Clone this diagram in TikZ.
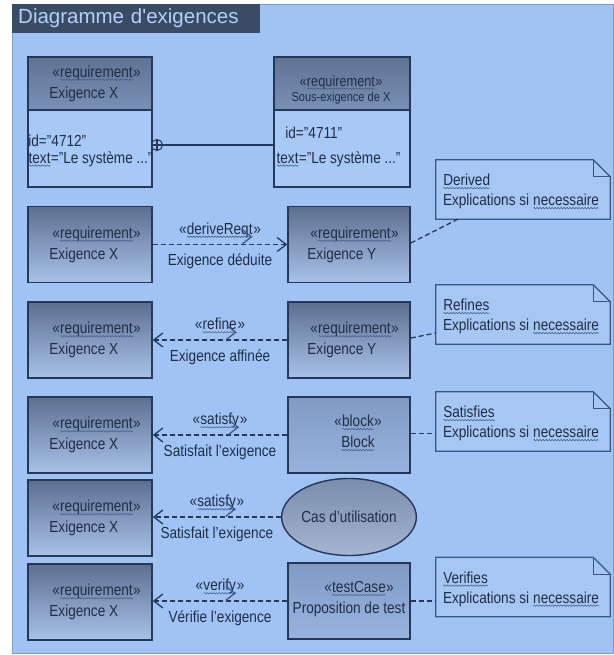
\documentclass[tikz,border=0pt]{standalone}
\usepackage{fontspec}
\setmainfont{Liberation Sans}[FakeStretch=0.85]
\newfontfamily\titlefont{Liberation Sans}
\usetikzlibrary{arrows.meta,shapes.geometric,decorations.pathmorphing}

\definecolor{panel}{HTML}{A0C3F4}
\definecolor{panelline}{HTML}{7E9CC6}
\definecolor{titlebar}{HTML}{3A4B64}
\definecolor{titletext}{HTML}{B3D1FA}
\definecolor{ink}{HTML}{1F2E47}
\definecolor{squig}{HTML}{3F5A85}
\definecolor{edge}{HTML}{24385A}
\definecolor{boxtop}{HTML}{5C6F90}
\definecolor{boxbot}{HTML}{A9C2E9}
\definecolor{headtop}{HTML}{5F7394}
\definecolor{headbot}{HTML}{7990B5}
\definecolor{bodyfill}{HTML}{A8C8F5}
\definecolor{notefill}{HTML}{A6C6F4}
\definecolor{noteedge}{HTML}{3A5682}
\definecolor{plaintop}{HTML}{809AC4}
\definecolor{plainbot}{HTML}{98B4DE}
\definecolor{ucfill}{HTML}{7D96BE}

% word with a wavy underline
\newcommand\uwave[1]{\tikz[baseline=(uw.base)]{%
  \node[shape=rectangle, draw=none, fill=none, inner sep=0pt, outer sep=0pt,
    minimum size=0pt, anchor=center] (uw) {#1};
  \draw[squig, line width=0.5pt, decorate,
    decoration={snake, amplitude=0.7pt, segment length=3pt}]
    ([yshift=-2.6pt]uw.base west) -- ([yshift=-2.6pt]uw.base east);}}
% stereotype line + element name, as used in every requirement box
\newcommand\reqtext[1]{\hspace*{3pt}«\uwave{requirement}»\\#1}
% note outline with folded top-right corner, drawn around a named node
\newcommand\dogear[1]{%
  \filldraw[fill=notefill, draw=noteedge, line width=1.2pt]
    (#1.south west) -- (#1.north west) -- ([xshift=-17pt]#1.north east)
    -- ([yshift=-17pt]#1.north east) -- (#1.south east) -- cycle;
  \draw[noteedge, line width=1.2pt]
    ([xshift=-17pt]#1.north east) -- ([xshift=-17pt,yshift=-17pt]#1.north east)
    -- ([yshift=-17pt]#1.north east);}

\begin{document}
\begin{tikzpicture}[x=1pt,y=-1pt,
  txt/.style={text=ink, font=\fontsize{16}{21}\selectfont, inner sep=0pt, align=left},
  lab/.style={text=ink, font=\fontsize{16}{19}\selectfont, inner sep=0pt},
  reqbox/.style={draw=edge, line width=1.6pt, top color=boxtop, bottom color=boxbot,
    minimum width=124pt, minimum height=76pt, inner sep=0pt},
  reqboxR/.style={reqbox, minimum width=122pt},
  plainbox/.style={draw=edge, line width=1.6pt, top color=plaintop, bottom color=plainbot,
    minimum width=122pt, minimum height=76pt, inner sep=0pt},
  headbox/.style={draw=edge, line width=1.6pt, top color=headtop, bottom color=headbot,
    minimum height=53pt, inner sep=0pt},
  bodybox/.style={draw=edge, line width=1.6pt, fill=bodyfill, minimum height=77pt, inner sep=0pt},
  notebox/.style={minimum width=174pt, minimum height=59pt, inner sep=0pt},
  dep/.style={draw=edge, line width=1.3pt, dash pattern=on 5pt off 3pt,
    -{Straight Barb[length=9pt,width=14pt,line width=1.3pt]}},
  link/.style={draw=edge, line width=1.3pt, dash pattern=on 5pt off 3pt},
]
\useasboundingbox (0,0) rectangle (613,655);

% diagram frame and title tab
\filldraw[fill=panel, draw=panelline, line width=0.8pt] (12,4) rectangle (613,653);
\node[fill=titlebar, anchor=north west, minimum height=29pt, text width=236pt,
  inner xsep=6pt, inner ysep=0pt, align=left, text=titletext,
  font=\titlefont\fontsize{20.5}{24}\selectfont] (title) at (12,4) {Diagramme d'exigences};

% containment: requirement and sub-requirement with compartments
\node[headbox, minimum width=124pt] (b1head) at (90,83.5) {};
\node[bodybox, minimum width=124pt] (b1body) at (90,148.5) {};
\node[txt, anchor=west] (b1name) at ([xshift=22pt]b1head.west) {\reqtext{Exigence X}};
\node[txt, anchor=west, font=\fontsize{16}{17}\selectfont] (b1attr) at ([xshift=1pt,yshift=-2pt]b1body.west)
  {id="4712"\\\uwave{text}="Le système ..."};

\node[headbox, minimum width=136pt] (b2head) at (342,83.5) {};
\node[bodybox, minimum width=136pt] (b2body) at (342,148.5) {};
\node[txt, align=center, font=\fontsize{15}{15}\selectfont] (b2name) at (341,89.5)
  {«\uwave{requirement}»\\\fontsize{13}{15}\selectfont Sous-exigence de X};
\node[txt, anchor=west, font=\fontsize{16}{19}\selectfont] (b2attr) at ([xshift=3pt,yshift=2pt]b2body.west)
  {\hspace*{9pt}id="4711"\\[6pt]\uwave{text}="Le système ..."};

\node[circle, draw=edge, fill=bodyfill, line width=1.1pt, minimum size=11pt, inner sep=0pt] (plus) at (157,145) {};
\draw[edge, line width=1.1pt] (plus.north) -- (plus.south) (plus.west) -- (plus.east);
\draw[edge, line width=1.3pt] (plus.east) -- (plus.east -| b2body.west);

% notes
\node[notebox] (n1) at (523,189.5) {};
\node[notebox] (n2) at (523,314.5) {};
\node[notebox] (n3) at (523,421.5) {};
\node[notebox] (n4) at (523,587) {};
\dogear{n1}\dogear{n2}\dogear{n3}\dogear{n4}
\node[txt, anchor=west, font=\fontsize{16}{20}\selectfont] (n1t) at ([xshift=7pt,yshift=-2pt]n1.west) {\uwave{Derived}\\Explications si \uwave{necessaire}};
\node[txt, anchor=west, font=\fontsize{16}{20}\selectfont] (n2t) at ([xshift=7pt,yshift=-2pt]n2.west) {\uwave{Refines}\\Explications si \uwave{necessaire}};
\node[txt, anchor=west, font=\fontsize{16}{20}\selectfont] (n3t) at ([xshift=7pt,yshift=-2pt]n3.west) {\uwave{Satisfies}\\Explications si \uwave{necessaire}};
\node[txt, anchor=west, font=\fontsize{16}{20}\selectfont] (n4t) at ([xshift=7pt,yshift=-2pt]n4.west) {\uwave{Verifies}\\Explications si \uwave{necessaire}};

% deriveReqt
\node[reqbox] (x2) at (90,244.5) {};
\node[txt, anchor=west] (x2t) at ([xshift=22pt]x2.west) {\reqtext{Exigence X}};
\node[reqboxR] (y2) at (349,244.5) {};
\node[txt, anchor=west] (y2t) at ([xshift=20pt]y2.west) {\reqtext{Exigence Y}};
\draw[dep] (x2.east) -- (y2.west)
  node[lab, midway, yshift=11pt] (l2a) {«\uwave{deriveReqt}»}
  node[lab, midway, yshift=-17pt] (l2b) {Exigence déduite};
\draw[link] ([yshift=1.5pt]y2.east) -- ([xshift=22pt]n1.south west);

% refine
\node[reqbox] (x3) at (90,340) {};
\node[txt, anchor=west] (x3t) at ([xshift=22pt]x3.west) {\reqtext{Exigence X}};
\node[reqboxR] (y3) at (349,340) {};
\node[txt, anchor=west] (y3t) at ([xshift=20pt]y3.west) {\reqtext{Exigence Y}};
\draw[dep] (y3.west) -- (x3.east)
  node[lab, midway, yshift=11pt] (l3a) {«\uwave{refine}»}
  node[lab, midway, yshift=-17pt] (l3b) {Exigence affinée};
\draw[link] ([yshift=2pt]y3.east) -- ([yshift=-18.5pt]n2.west);

% satisfy by a block
\node[reqbox] (x4) at (90,435) {};
\node[txt, anchor=west] (x4t) at ([xshift=22pt]x4.west) {\reqtext{Exigence X}};
\node[plainbox] (blk) at (349,435) {};
\node[txt, align=center] (blkt) at (358,433) {«\uwave{block}»\\\uwave{Block}};
\draw[dep] (blk.west) -- (x4.east)
  node[lab, midway, yshift=11pt] (l4a) {«\uwave{satisfy}»}
  node[lab, midway, yshift=-17pt] (l4b) {Satisfait l'exigence};
\draw[link] ([yshift=1.5pt]blk.east) -- ([yshift=1.5pt]blk.east -| n3.west);

% satisfy by a use case
\node[reqbox] (x5) at (90,518) {};
\node[txt, anchor=west] (x5t) at ([xshift=22pt]x5.west) {\reqtext{Exigence X}};
\node[ellipse, draw=edge, line width=1.4pt, top color=ucfill!85!black!90, bottom color=ucfill!70!white,
  minimum width=126pt, minimum height=77pt, inner sep=0pt, text=ink,
  font=\fontsize{16}{19}\selectfont] (uc) at (349,517) {Cas d'utilisation};
\draw[dep] (uc.west) -- (uc.west -| x5.east)
  node[lab, midway, yshift=11pt] (l5a) {«\uwave{satisfy}»}
  node[lab, midway, yshift=-17pt] (l5b) {Satisfait l'exigence};

% verify by a test case
\node[reqbox] (x6) at (90,602) {};
\node[txt, anchor=west] (x6t) at ([xshift=22pt]x6.west) {\reqtext{Exigence X}};
\node[plainbox] (tc) at (349,601) {};
\node[txt, align=center] (tct) at (349,599) {\hspace*{20pt}«\uwave{testCase}»\\Proposition de test};
\draw[dep] (tc.west) -- (tc.west -| x6.east)
  node[lab, midway, yshift=11pt] (l6a) {«\uwave{verify}»}
  node[lab, midway, yshift=-17pt] (l6b) {Vérifie l'exigence};
\draw[link] (tc.east) -- (tc.east -| n4.west);
\end{tikzpicture}
\end{document}
